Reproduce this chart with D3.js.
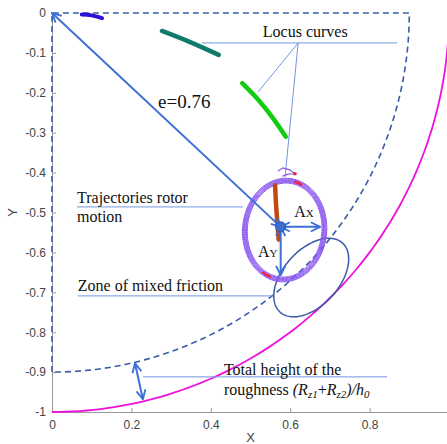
<!DOCTYPE html>
<html>
<head>
<meta charset="utf-8">
<script src="https://cdn.jsdelivr.net/npm/d3@7"></script>
<style>
  body { margin: 0; background: #fff; }
  svg { display: block; }
  .note { font-family: "Liberation Serif", "Times New Roman", serif; fill: #111; }
  .tick text { font-family: "Liberation Sans", Arial, sans-serif; fill: #444; font-size: 12px; }
</style>
</head>
<body>
<div id="chart"></div>
<script>
// ticks
const xTicks = [0, 0.2, 0.4, 0.6, 0.8];
const yTicks = [0, -0.1, -0.2, -0.3, -0.4, -0.5, -0.6, -0.7, -0.8, -0.9, -1];

// clearance circle (dashed) and bearing circle (magenta), radii
const clearanceR = 0.9;
const bearingR = 1.0;

// eccentricity and rotor centre
const eccLabel = "e=0.76";
const rotorCenter = [0.576, -0.536];

// locus curves
const locusBlue = [[0.075, -0.004], [0.1, -0.006], [0.126, -0.013]];
const locusTeal = [[0.277, -0.045], [0.348, -0.073], [0.42, -0.105]];
const locusGreen = [[0.479, -0.176], [0.52, -0.218], [0.557, -0.264], [0.589, -0.31]];
const locusBrown = [[0.562, -0.432], [0.565, -0.49], [0.571, -0.568]];

// rotor trajectory orbit: centre, radii (rings), tilt (deg)
const orbitCenter = [0.586, -0.544];
const orbitRx = [0.094, 0.096, 0.098, 0.1, 0.102, 0.104, 0.106];
const orbitRy = [0.118, 0.12, 0.122, 0.124, 0.126, 0.128, 0.13];
const orbitTilt = -5;
const orbitRedMarks = [[70, 82], [242, 256]];
const orbitSquiggle = [[0.569, -0.396], [0.582, -0.388], [0.599, -0.393], [0.612, -0.403], [0.594, -0.404], [0.58, -0.409]];

// zone of mixed friction ellipse
const zoneCenter = [0.653, -0.663];
const zoneA = 0.117, zoneB = 0.07, zoneTilt = 47.6;

// amplitudes end points
const axEnd = [0.675, -0.536];
const ayEnd = [0.576, -0.657];

// roughness arrow
const roughArrow = [[0.209, -0.878], [0.229, -0.968]];

const width = 447, height = 444;

const svg = d3.select("#chart").append("svg")
  .attr("width", width)
  .attr("height", height);

const x = d3.scaleLinear().domain([0, 1]).range([52, 449]);
const y = d3.scaleLinear().domain([-1, 0]).range([412, 13]);

const defs = svg.append("defs");
defs.append("marker")
  .attr("id", "arr")
  .attr("viewBox", "0 0 12 12")
  .attr("refX", 11).attr("refY", 6)
  .attr("markerUnits", "userSpaceOnUse")
  .attr("markerWidth", 11).attr("markerHeight", 11)
  .attr("orient", "auto-start-reverse")
  .append("path")
  .attr("d", "M1,1 L11,6 L1,11")
  .attr("fill", "none")
  .attr("stroke", "#3d6fd6")
  .attr("stroke-width", 2);

const line = d3.line().x(d => x(d[0])).y(d => y(d[1]));
const smooth = d3.line().x(d => x(d[0])).y(d => y(d[1])).curve(d3.curveNatural);

// axes
const gx = svg.append("g")
  .attr("transform", `translate(0,${y(-1)})`)
  .call(d3.axisBottom(x).tickValues(xTicks).tickSize(-4).tickSizeOuter(0).tickPadding(8).tickFormat(d => String(d)));
gx.select(".domain").attr("stroke", "#999");
gx.selectAll(".tick line").attr("stroke", "#999");

const gy = svg.append("g")
  .attr("transform", `translate(${x(0)},0)`)
  .call(d3.axisLeft(y).tickValues(yTicks).tickSize(-4).tickSizeOuter(0).tickPadding(6).tickFormat(d => String(d)));
gy.select(".domain").attr("stroke", "#999");
gy.selectAll(".tick line").attr("stroke", "#999");

svg.append("text")
  .attr("x", x(0.5)).attr("y", 442)
  .attr("text-anchor", "middle")
  .style("font-family", "Liberation Sans, Arial, sans-serif")
  .style("font-size", "13px").attr("fill", "#444")
  .text("X");
svg.append("text")
  .attr("transform", `translate(17,${y(-0.5)}) rotate(-90)`)
  .attr("text-anchor", "middle")
  .style("font-family", "Liberation Sans, Arial, sans-serif")
  .style("font-size", "13px").attr("fill", "#444")
  .text("Y");

// bearing circle (magenta)
const rad = Math.PI / 180;
const bearingPts = d3.range(0, 91, 1).map(a => [bearingR * Math.sin(a * rad), -bearingR * Math.cos(a * rad)]);
svg.append("path")
  .attr("d", line(bearingPts))
  .attr("fill", "none").attr("stroke", "#ee11dd").attr("stroke-width", 1.8);

// clearance boundary (dashed)
const clearPath = [[0, -clearanceR], [0, 0], [clearanceR, 0]].concat(
  d3.range(90, -1, -1).map(a => [clearanceR * Math.sin(a * rad), -clearanceR * Math.cos(a * rad)])
);
svg.append("path")
  .attr("d", line(clearPath))
  .attr("fill", "none").attr("stroke", "#3a5ca8").attr("stroke-width", 1.6)
  .attr("stroke-dasharray", "6,4");

// ellipse helper
function ellipsePts(c, rx, ry, tiltDeg, t0 = 0, t1 = 360) {
  const p = tiltDeg * rad;
  return d3.range(t0, t1 + 0.5, 2).map(t => {
    const ex = rx * Math.cos(t * rad), ey = ry * Math.sin(t * rad);
    return [c[0] + ex * Math.cos(p) - ey * Math.sin(p), c[1] + ex * Math.sin(p) + ey * Math.cos(p)];
  });
}

// annotation leader lines
const noteColor = "#7095e0";
const leaders = [
  [[0.378, -0.075], [0.869, -0.075]],
  [[0.62, -0.075], [0.519, -0.198]],
  [[0.62, -0.075], [0.587, -0.411]],
  [[0.063, -0.486], [0.481, -0.486]],
  [[0.065, -0.709], [0.559, -0.709]],
  [[0.229, -0.912], [0.844, -0.912]]
];
svg.selectAll(".leader").data(leaders).enter().append("path")
  .attr("class", "leader")
  .attr("d", d => line(d))
  .attr("stroke", noteColor).attr("stroke-width", 1).attr("fill", "none");

// zone of mixed friction ellipse
svg.append("path")
  .attr("d", line(ellipsePts(zoneCenter, zoneA, zoneB, zoneTilt)))
  .attr("fill", "none").attr("stroke", "#3a5ca8").attr("stroke-width", 1.5);

// orbit rings
orbitRx.forEach((rx, i) => {
  svg.append("path")
    .attr("d", line(ellipsePts(orbitCenter, rx, orbitRy[i], orbitTilt)))
    .attr("fill", "none").attr("stroke", "#8a55f0").attr("stroke-width", 1);
});
orbitRedMarks.forEach(m => {
  svg.append("path")
    .attr("d", line(ellipsePts(orbitCenter, orbitRx[3], orbitRy[3], orbitTilt, m[0], m[1])))
    .attr("fill", "none").attr("stroke", "#ee2244").attr("stroke-width", 2.5);
});
svg.append("path")
  .attr("d", line(orbitSquiggle))
  .attr("fill", "none").attr("stroke", "#8855ee").attr("stroke-width", 1.2);
svg.append("circle")
  .attr("cx", x(orbitSquiggle[3][0])).attr("cy", y(orbitSquiggle[3][1]))
  .attr("r", 1.8).attr("fill", "#ee2244");

// locus curves
const loci = [
  { pts: locusBlue, color: "#2a10d8", w: 4 },
  { pts: locusTeal, color: "#0f7b6b", w: 4.5 },
  { pts: locusGreen, color: "#12cc12", w: 4.5 },
  { pts: locusBrown, color: "#c24a10", w: 4.5 }
];
svg.selectAll(".locus").data(loci).enter().append("path")
  .attr("class", "locus")
  .attr("d", d => smooth(d.pts))
  .attr("fill", "none")
  .attr("stroke", d => d.color)
  .attr("stroke-width", d => d.w)
  .attr("stroke-linecap", "round");

// arrows
const arrows = [
  [[0, 0], rotorCenter],
  [rotorCenter, axEnd],
  [rotorCenter, ayEnd],
  roughArrow
];
svg.selectAll(".arrow").data(arrows).enter().append("path")
  .attr("class", "arrow")
  .attr("d", d => line(d))
  .attr("fill", "none").attr("stroke", "#3d6fd6").attr("stroke-width", 2)
  .attr("marker-start", "url(#arr)")
  .attr("marker-end", "url(#arr)");

// rotor centre dot
svg.append("circle")
  .attr("cx", x(rotorCenter[0])).attr("cy", y(rotorCenter[1]))
  .attr("r", 5).attr("fill", "#3a6fd0").attr("stroke", "#2a55b0").attr("stroke-width", 1);

// texts
function note(px, py, size, txt) {
  return svg.append("text").attr("class", "note")
    .attr("x", x(px)).attr("y", y(py))
    .style("font-size", size + "px")
    .text(txt);
}
note(0.267, -0.238, 19, eccLabel);
note(0.531, -0.06, 16, "Locus curves");
note(0.063, -0.476, 16, "Trajectories rotor");
note(0.063, -0.524, 16, "motion");
note(0.065, -0.697, 16, "Zone of mixed friction");
note(0.433, -0.907, 16, "Total height of the");

const rough = svg.append("text").attr("class", "note")
  .attr("x", x(0.433)).attr("y", y(-0.957))
  .style("font-size", "16px");
rough.append("tspan").text("roughness ");
rough.append("tspan").attr("font-style", "italic").text("(R");
rough.append("tspan").attr("font-style", "italic").attr("font-size", "11px").attr("dy", 3).text("z1");
rough.append("tspan").attr("dy", -3).text("+");
rough.append("tspan").attr("font-style", "italic").text("R");
rough.append("tspan").attr("font-style", "italic").attr("font-size", "11px").attr("dy", 3).text("z2");
rough.append("tspan").attr("font-style", "italic").attr("dy", -3).text(")/h");
rough.append("tspan").attr("font-style", "italic").attr("font-size", "11px").attr("dy", 3).text("0");

function ampLabel(px, py, sub) {
  const t = svg.append("text").attr("class", "note")
    .attr("x", x(px)).attr("y", y(py))
    .style("font-size", "16px");
  t.append("tspan").text("A");
  t.append("tspan").attr("font-size", "11px").text(sub);
}
ampLabel(0.61, -0.511, "X");
ampLabel(0.519, -0.612, "Y");
</script>
</body>
</html>
